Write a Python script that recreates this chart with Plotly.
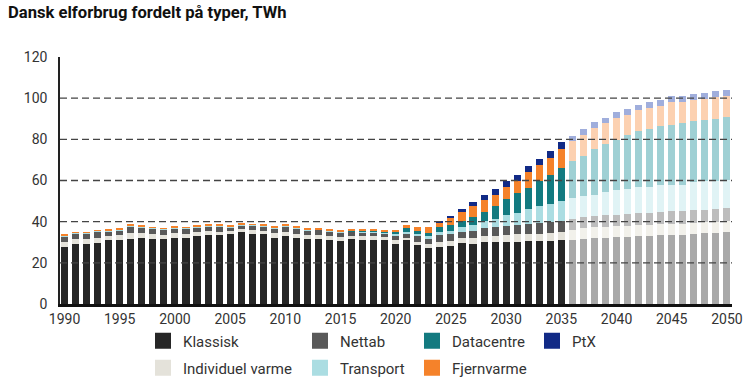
import plotly.graph_objects as go

# ---------------- data ----------------
years = list(range(1990, 2051))

klassisk = [27.6, 29.3, 29.3, 29.8, 31.0, 31.0, 31.8, 32.3, 31.8, 31.8,
            32.3, 32.3, 32.9, 33.4, 33.3, 33.9, 34.9, 34.2, 33.9, 32.3,
            32.9, 32.0, 31.4, 31.6, 31.0, 30.7, 31.4, 31.3, 31.0, 31.0,
            29.3, 31.0, 28.7, 27.4, 27.9, 28.2, 29.5, 29.2, 29.9, 29.9,
            30.3, 30.3, 30.6, 30.6, 30.8, 31.1, 31.1, 31.7, 32.2, 32.2,
            32.7, 32.7, 33.2, 33.2, 33.5, 33.7, 33.7, 34.0, 34.3, 34.3,
            34.8]

individuel_varme = [2.6, 2.3, 2.3, 2.5, 2.1, 2.3, 2.6, 2.1, 2.0, 1.9,
                    2.0, 1.9, 1.9, 2.0, 1.9, 1.5, 1.5, 1.6, 1.6, 2.0,
                    2.0, 2.0, 2.0, 1.9, 1.9, 1.8, 1.7, 1.7, 1.8, 1.6,
                    2.0, 1.3, 1.6, 1.9, 2.4, 2.5, 2.5, 2.7, 2.9, 3.1,
                    3.3, 3.5, 3.5, 3.5, 3.6, 3.9, 4.9, 5.0, 5.1, 5.2,
                    5.1, 5.2, 5.1, 5.2, 5.2, 5.2, 5.2, 5.2, 5.3, 5.3,
                    5.3]

nettab = [2.8, 2.5, 2.5, 2.9, 2.3, 2.6, 3.4, 2.9, 2.9, 2.5,
          2.5, 2.4, 2.4, 2.4, 2.4, 2.0, 1.8, 2.2, 2.2, 2.4,
          2.6, 2.7, 2.5, 2.5, 2.3, 2.2, 1.9, 1.8, 2.0, 1.8,
          2.2, 2.0, 2.5, 2.4, 3.4, 3.4, 3.2, 3.8, 4.0, 4.5,
          4.4, 4.6, 4.9, 5.3, 5.4, 5.5, 5.2, 5.4, 5.5, 5.7,
          5.6, 5.8, 5.9, 6.0, 6.1, 6.1, 6.2, 6.3, 6.3, 6.4,
          6.5]

transport = [0.5, 0.5, 0.5, 0.5, 0.4, 0.4, 0.4, 0.4, 0.4, 0.4,
             0.4, 0.4, 0.4, 0.4, 0.4, 0.4, 0.4, 0.4, 0.4, 0.4,
             0.4, 0.4, 0.4, 0.4, 0.4, 0.4, 0.4, 0.4, 0.4, 0.4,
             0.6, 0.8, 1.3, 1.2, 1.5, 1.6, 2.1, 2.8, 3.3, 4.0,
             5.0, 6.0, 7.0, 8.0, 8.9, 9.7, 10.2, 10.4, 10.2, 11.3,
             12.2, 12.0, 12.7, 12.6, 13.0, 13.0, 12.9, 13.6, 13.8, 13.9,
             13.7]

datacentre = [0.0, 0.0, 0.0, 0.0, 0.0, 0.0, 0.0, 0.0, 0.0, 0.0,
              0.0, 0.0, 0.0, 0.0, 0.0, 0.0, 0.0, 0.0, 0.0, 0.0,
              0.0, 0.0, 0.0, 0.0, 0.0, 0.0, 0.2, 0.3, 0.4, 0.5,
              1.0, 1.7, 1.6, 1.8, 2.1, 2.8, 3.2, 3.7, 4.4, 5.9,
              7.9, 9.5, 10.3, 12.6, 14.1, 15.9, 17.9, 19.5, 22.3, 23.5,
              24.3, 26.4, 27.0, 27.9, 28.5, 29.2, 29.7, 29.7, 29.7, 29.8,
              30.5]

fjernvarme = [0.1, 0.1, 0.1, 0.1, 0.5, 0.5, 0.6, 0.3, 0.2, 0.2,
              0.4, 0.3, 0.5, 0.6, 0.6, 0.4, 0.3, 0.4, 0.3, 0.5,
              0.5, 0.5, 0.5, 0.4, 0.4, 0.4, 0.6, 0.5, 0.4, 0.4,
              0.9, 1.6, 1.6, 2.6, 2.1, 3.2, 4.0, 5.3, 5.9, 5.6,
              6.0, 5.8, 7.6, 7.5, 8.2, 9.3, 9.7, 10.1, 10.1, 9.8,
              10.7, 9.7, 10.2, 10.3, 9.8, 10.9, 10.4, 10.5, 10.3, 10.9,
              10.4]

ptx = [0.0, 0.0, 0.0, 0.0, 0.0, 0.0, 0.0, 0.0, 0.0, 0.0,
       0.0, 0.0, 0.0, 0.0, 0.0, 0.0, 0.0, 0.0, 0.0, 0.0,
       0.0, 0.0, 0.0, 0.0, 0.0, 0.0, 0.0, 0.0, 0.0, 0.0,
       0.0, 0.0, 0.0, 0.0, 0.7, 1.1, 1.6, 2.3, 2.6, 3.0,
       3.0, 3.1, 3.0, 2.9, 3.1, 3.1, 2.8, 2.8, 2.8, 2.8,
       2.8, 2.8, 2.8, 2.8, 2.8, 2.9, 2.9, 2.9, 2.9, 2.9,
       2.9]

series_names = ["Klassisk", "Individuel varme", "Nettab", "Transport",
                "Datacentre", "Fjernvarme", "PtX"]
series_values = [klassisk, individuel_varme, nettab, transport,
                 datacentre, fjernvarme, ptx]

x_tick_vals = [1990, 1995, 2000, 2005, 2010, 2015, 2020, 2025,
               2030, 2035, 2040, 2045, 2050]
x_tick_text = ["1990", "1995", "2000", "2005", "2010", "2015", "2020",
               "2025", "2030", "2035", "2040", "2045", "2050"]
y_tick_vals = [0, 20, 40, 60, 80, 100, 120]

title_text = "Dansk elforbrug fordelt på typer, TWh"

# ---------------- style ----------------
last_actual_year = 2035
full_colors = {
    "Klassisk": "#262626",
    "Individuel varme": "#e4e2da",
    "Nettab": "#595959",
    "Transport": "#abdde2",
    "Datacentre": "#137a80",
    "Fjernvarme": "#f5822a",
    "PtX": "#112a86",
}
faded_colors = {
    "Klassisk": "#a9a9a9",
    "Individuel varme": "#f2f1eb",
    "Nettab": "#bdbdbd",
    "Transport": "#e0f3f5",
    "Datacentre": "#9fd0d4",
    "Fjernvarme": "#fcd1b1",
    "PtX": "#a0aedc",
}
# legend placement (container pixels): swatch centre x, y
legend_pos = {
    "Klassisk": (163, 341),
    "Nettab": (320, 341),
    "Datacentre": (432, 341),
    "PtX": (552, 341),
    "Individuel varme": (163, 368),
    "Transport": (320, 368),
    "Fjernvarme": (432, 368),
}
W, H = 750, 388
FONT = "Roboto, 'Noto Sans', sans-serif"

fig = go.Figure()
for name, vals in zip(series_names, series_values):
    cols = [full_colors[name] if y <= last_actual_year else faded_colors[name]
            for y in years]
    fig.add_trace(go.Bar(
        x=years, y=vals, name=name,
        marker=dict(color=cols, line=dict(width=0)),
        showlegend=False,
        hovertemplate=name + " %{x}: %{y} TWh<extra></extra>",
    ))

# legend entries, each in its own legend box for exact placement
legend_layouts = {}
for i, name in enumerate(["Klassisk", "Nettab", "Datacentre", "PtX",
                          "Individuel varme", "Transport", "Fjernvarme"]):
    key = "legend" if i == 0 else f"legend{i+1}"
    fig.add_trace(go.Scatter(
        x=[years[0]], y=[None], mode="markers", name=name,
        marker=dict(symbol="square", size=16, color=full_colors[name]),
        legend=key, showlegend=True, hoverinfo="skip",
    ))
    cx, cy = legend_pos[name]
    legend_layouts[key] = dict(
        x=(cx - 20) / W, y=1 - cy / H, xref="container", yref="container",
        xanchor="left", yanchor="middle", bgcolor="rgba(0,0,0,0)",
        borderwidth=0, font=dict(family=FONT, size=15, color="#333333"),
        itemsizing="trace", tracegroupgap=0,
    )

# dashed gridlines drawn above the bars
shapes = []
for v in y_tick_vals:
    if 0 < v < 120:
        shapes.append(dict(
            type="line", xref="paper", x0=0, x1=1, yref="y", y0=v, y1=v,
            line=dict(color="#444444", width=1.4, dash="7px,4px"),
            layer="above",
        ))

fig.update_layout(
    width=W, height=H,
    margin=dict(l=60, r=18, t=57, b=84, autoexpand=False),
    paper_bgcolor="white", plot_bgcolor="white",
    barmode="stack", bargap=0.36,
    font=dict(family=FONT, color="#333333"),
    title=dict(text="<b>" + title_text + "</b>", x=8 / W, y=1 - 12 / H,
               xref="container", yref="container", xanchor="left",
               yanchor="middle",
               font=dict(family=FONT, size=16.6, color="#111111")),
    shapes=shapes,
    **legend_layouts,
)
fig.update_xaxes(
    type="linear", autorange=False,
    range=[1989.59, 2050.46], tickmode="array", tickvals=x_tick_vals,
    ticktext=x_tick_text, showgrid=False, zeroline=False,
    showline=True, linecolor="#111111", linewidth=2.5, ticks="",
    tickfont=dict(family=FONT, size=14, color="#333333"),
)
fig.update_yaxes(
    type="linear", autorange=False,
    range=[0, 120], tickmode="array", tickvals=y_tick_vals,
    showgrid=False, zeroline=False,
    showline=True, linecolor="#222222", linewidth=1.5, ticks="",
    ticklabelstandoff=8,
    tickfont=dict(family=FONT, size=14, color="#333333"),
)

fig.write_html(
    "out.html",
    config={"displayModeBar": False},
    post_script="document.body.style.margin='0';",
)
